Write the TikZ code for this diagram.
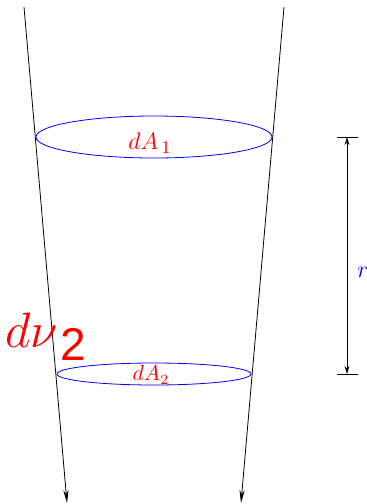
\documentclass[tikz,border=0pt]{standalone}
\usepackage{fontspec}
\newfontfamily\hvfont{Liberation Sans}
\usetikzlibrary{arrows.meta}
\begin{document}
\begin{tikzpicture}[x=0.5pt, y=-0.5pt,
    ray/.style={-{Stealth[length=6.5pt, width=2.6pt]}, thin},
    disc/.style={draw=blue, thin},
    dim/.style={{Stealth[length=4pt, width=2.4pt]}-{Stealth[length=4pt, width=2.4pt]}, thin},
    lbl/.style={text=red, inner sep=0pt}]
    \useasboundingbox (0,0) rectangle (366,504);

    % Rays
    \coordinate (lt) at (24,7);
    \coordinate (lb) at (67,503);
    \coordinate (rt) at (284,7);
    \coordinate (rb) at (241,503);
    \draw[ray] (lt) -- (lb);
    \draw[ray] (rt) -- (rb);

    % Area elements
    \draw[disc] (154,137) ellipse (59pt and 10.5pt);
    \draw[disc] (154,374) ellipse (48.5pt and 5.5pt);
    \node[lbl, font=\fontsize{13}{13}\selectfont] (a1) at (150,143) {$dA_{\,1}$};
    \node[lbl, font=\fontsize{10.5}{11}\selectfont] (a2) at (151,375) {$dA_2$};

    % Solid angle
    \node[lbl, anchor=base west, font=\fontsize{26}{26}\selectfont] (nu) at (5,347)
        {$d\nu$\kern1.5pt\raisebox{-6.5pt}{\hvfont\fontsize{23}{23}\selectfont 2}};

    % Distance
    \coordinate (d1) at (347,137);
    \coordinate (d2) at (347,374);
    \draw (337,137) -- (358,137);
    \draw (337,374) -- (358,374);
    \draw[dim] (d1) -- (d2);
    \node[anchor=base west, text=blue, inner sep=0pt, font=\fontsize{12}{12}\selectfont] (r) at (357,277) {$r$};
\end{tikzpicture}
\end{document}
